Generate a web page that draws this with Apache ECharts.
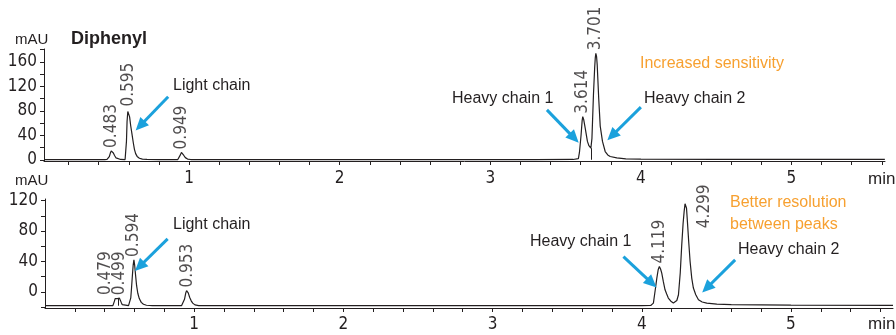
<!DOCTYPE html>
<html>
<head>
<meta charset="utf-8">
<script src="https://cdn.jsdelivr.net/npm/echarts@6/dist/echarts.min.js"></script>
<style>
html,body{margin:0;padding:0;background:#fff;}
#chart{width:896px;height:335px;}
</style>
</head>
<body>
<div id="chart"></div>
<script>
// ---------------- DATA ----------------
// Chromatogram traces: [time (min), signal (mAU)]
const topTrace = [
  [0.037,0.3],[0.2,0.3],[0.44,0.3],[0.455,0.5],[0.463,1],[0.47,5],[0.477,11],[0.483,14.5],[0.49,14],
  [0.497,11],[0.505,7],[0.515,3],[0.527,1],[0.545,0.5],[0.575,0.4],[0.581,1],[0.584,30],[0.588,62],
  [0.593,79],[0.598,82],[0.605,70],[0.612,56],[0.62,43],[0.63,27],[0.637,17],[0.645,10],[0.655,5.5],
  [0.67,2.5],[0.69,1],[0.72,0.5],[0.8,0.3],[0.925,0.4],[0.935,2],[0.942,8],[0.949,12],[0.956,11.5],
  [0.965,7],[0.975,3.5],[0.99,1.2],[1.01,0.4],[1.5,0.3],[2.5,0.3],[3.3,0.4],[3.55,0.5],[3.585,2],
  [3.592,12],[3.603,41],[3.61,64],[3.614,70.5],[3.62,66],[3.63,52],[3.645,30],[3.655,23],[3.668,19],
  [3.675,35],[3.685,106],[3.693,150],[3.697,166],[3.701,174],[3.706,168],[3.71,155],[3.72,100],
  [3.73,55],[3.745,30],[3.763,13.5],[3.78,8],[3.796,5.4],[3.84,3],[3.9,1.5],[4.0,1],[4.5,0.7],
  [5.0,0.6],[5.62,0.5]
];
const bottomTrace = [
  [0,-18.4],[0.3,-18.4],[0.455,-18.3],[0.462,-17.5],[0.466,-12],[0.47,-9],[0.479,-8.3],[0.485,-9],
  [0.489,-9.5],[0.494,-8.8],[0.499,-8.5],[0.505,-10],[0.511,-14],[0.518,-17],[0.528,-18.2],[0.56,-18.3],
  [0.57,-17.8],[0.575,-8],[0.58,5],[0.586,22],[0.591,35],[0.596,42],[0.601,35],[0.607,22],[0.614,8],
  [0.622,-2],[0.632,-9],[0.645,-14],[0.66,-16.5],[0.68,-17.8],[0.72,-18.3],[0.915,-18.3],[0.925,-16.8],
  [0.935,-10],[0.943,-2],[0.949,1.5],[0.953,1.7],[0.96,-1.5],[0.97,-7.5],[0.98,-12],[0.99,-15],
  [1.005,-17.3],[1.03,-18.2],[2.0,-18.4],[3.0,-18.4],[4.0,-18.3],[4.06,-18.0],[4.078,-15],[4.09,2],
  [4.101,18],[4.11,29],[4.118,33.3],[4.126,30],[4.134,24.6],[4.145,13],[4.156,2.6],[4.167,-3],
  [4.178,-8.3],[4.195,-12.5],[4.212,-14.9],[4.223,-15],[4.235,-11.5],[4.246,-3.9],[4.258,25],
  [4.268,61.8],[4.277,90],[4.284,105.5],[4.29,116],[4.295,118],[4.3,110],[4.306,92.4],[4.315,65],
  [4.324,39.8],[4.335,18],[4.346,4.9],[4.362,-4],[4.38,-10.5],[4.405,-13.5],[4.436,-15],[4.503,-16.2],
  [4.6,-17],[5.0,-17.6],[5.684,-18]
];

// Peak retention-time labels
const topPeakTimes   = [0.483, 0.595, 0.949, 3.614, 3.701];
const topPeakHeights = [14.5, 82, 12, 70.5, 174];
const topPeakLabels  = ['0.483','0.595','0.949','3.614','3.701'];
const bottomPeakTimes   = [0.479, 0.499, 0.594, 0.953, 4.119, 4.299];
const bottomPeakHeights = [-8.3, -8.5, 42, 1.7, 33.3, 118];
const bottomPeakLabels  = ['0.479','0.499','0.594','0.953','4.119','4.299'];

// Axis ticks and labels
const xTickValues  = [0.2,0.4,0.6,0.8,1,1.2,1.4,1.6,1.8,2,2.2,2.4,2.6,2.8,3,3.2,3.4,3.6,3.8,4,4.2,4.4,4.6,4.8,5,5.2,5.4,5.6];
const xLabelValues = [1,2,3,4,5];
const xTickLabels  = ['1','2','3','4','5'];
const topYTickValues  = [0,20,40,60,80,100,120,140,160,180];
const topYLabelValues = [0,40,80,120,160];
const bottomYTickValues  = [-20,0,20,40,60,80,100,120];
const bottomYLabelValues = [0,40,80,120];

// Annotation arrows [start, end] in data coordinates
const topArrows = [
  [[0.861,102.9],[0.675,55.5]],
  [[3.376,81.6],[3.557,35.4]],
  [[4.0,86],[3.808,39.2]]
];
const bottomArrows = [
  [[0.822,69.6],[0.634,33.2]],
  [[3.877,46.4],[4.067,11.4]],
  [[4.626,42],[4.436,4.9]]
];
// Integration drop lines [time, top value]
const topDrops = [[3.668,19]];
const bottomDrops = [[0.489,-9.5]];

// ---------------- STYLE ----------------
const AXIS_FONT = "'Liberation Sans Narrow','DejaVu Sans Condensed',sans-serif";
const TEXT_FONT = "'Liberation Sans',Arial,sans-serif";
const INK = '#231f20';
const BLUE = '#1ba1dc';
const ORANGE = '#f7a030';

function mkX(gi, min, max, margin) {
  return {
    type:'value', gridIndex:gi, min:min, max:max,
    axisLine:{show:true,onZero:false,lineStyle:{color:INK,width:1}},
    axisTick:{show:true,length:4,customValues:xTickValues,lineStyle:{color:INK,width:1}},
    axisLabel:{show:true,customValues:xLabelValues,
      formatter:function(v){const i=xLabelValues.indexOf(v);return i>=0?xTickLabels[i]:'';},
      fontSize:17,fontFamily:AXIS_FONT,color:INK,margin:margin},
    splitLine:{show:false}
  };
}
function mkY(gi, min, max, ticks, labels) {
  return {
    type:'value', gridIndex:gi, min:min, max:max,
    axisLine:{show:true,onZero:false,lineStyle:{color:INK,width:1}},
    axisTick:{show:true,length:4,customValues:ticks,lineStyle:{color:INK,width:1}},
    axisLabel:{show:true,customValues:labels,formatter:function(v){return String(v);},
      fontSize:17,fontFamily:AXIS_FONT,color:INK,margin:7},
    splitLine:{show:false}
  };
}
function arrowItems(arr){
  return arr.map(function(a){
    return [{coord:a[0],symbol:'none'},
            {coord:a[1],symbol:'triangle',symbolSize:[12,13],
             lineStyle:{color:BLUE,width:3,type:'solid'},itemStyle:{color:BLUE}}];
  });
}
function dropItems(arr, base){
  return arr.map(function(d){
    return [{coord:[d[0],base],symbol:'none'},
            {coord:[d[0],d[1]],symbol:'none',lineStyle:{color:INK,width:1,type:'solid'}}];
  });
}
function traceSeries(xi, data, arrows, drops, base){
  return {
    type:'line', xAxisIndex:xi, yAxisIndex:xi, data:data,
    showSymbol:false, symbol:'none', silent:true,
    lineStyle:{color:INK,width:1.2},
    markLine:{silent:true,animation:false,symbol:'none',
      label:{show:false},
      lineStyle:{type:'solid',color:BLUE,width:3},
      emphasis:{disabled:true},
      data:arrowItems(arrows).concat(dropItems(drops, base))}
  };
}
// label nudges in text-local coordinates (rotated labels)
const labelNudge = {'0.479':[0,-11],'4.299':[-29,18]};
function peakSeries(xi, times, heights, labels){
  return {
    type:'scatter', xAxisIndex:xi, yAxisIndex:xi, symbolSize:0, silent:true,
    data:times.map(function(t,i){
      const item = {value:[t,heights[i]]};
      if (labelNudge[labels[i]]) item.label = {offset:labelNudge[labels[i]]};
      return item;
    }),
    label:{show:true,position:'top',distance:3,rotate:90,align:'left',verticalAlign:'middle',
      fontSize:17,fontFamily:AXIS_FONT,color:INK,
      formatter:function(p){return labels[p.dataIndex];}}
  };
}
function txt(x,y,text,opt){
  opt = opt||{};
  return {type:'text',x:x,y:y,silent:true,
    style:{text:text,fill:opt.fill||INK,font:(opt.weight||'normal')+' '+(opt.size||16)+'px '+(opt.family||TEXT_FONT),
      align:'left',verticalAlign:'middle',lineHeight:opt.lh||undefined}};
}

const option = {
  animation:false,
  backgroundColor:'#ffffff',
  grid:[
    {left:44,top:49,width:841,height:112},
    {left:45,top:199,width:848,height:109}
  ],
  xAxis:[mkX(0,0.0365,5.621,9), mkX(1,0,5.684,8)],
  yAxis:[mkY(0,-2,181,topYTickValues,topYLabelValues), mkY(1,-21.4,122.2,bottomYTickValues,bottomYLabelValues)],
  series:[
    traceSeries(0, topTrace, topArrows, topDrops, 0),
    traceSeries(1, bottomTrace, bottomArrows, bottomDrops, -18.4),
    peakSeries(0, topPeakTimes, topPeakHeights, topPeakLabels),
    peakSeries(1, bottomPeakTimes, bottomPeakHeights, bottomPeakLabels)
  ],
  graphic:[
    txt(15,40,'mAU',{size:15}),
    txt(71,39,'Diphenyl',{size:18,weight:'bold'}),
    txt(15,181,'mAU',{size:15}),
    txt(868,179,'min',{size:17}),
    txt(868,324,'min',{size:17}),
    txt(173,86,'Light chain'),
    txt(452,99,'Heavy chain 1'),
    txt(644,99,'Heavy chain 2'),
    txt(640,64,'Increased sensitivity',{fill:ORANGE}),
    txt(173,225,'Light chain'),
    txt(530,242,'Heavy chain 1'),
    txt(738,250,'Heavy chain 2'),
    txt(730,203,'Better resolution',{fill:ORANGE}),
    txt(730,225,'between peaks',{fill:ORANGE})
  ]
};
const chart = echarts.init(document.getElementById('chart'),null,{renderer:'canvas'});
chart.setOption(option);
</script>
</body>
</html>
